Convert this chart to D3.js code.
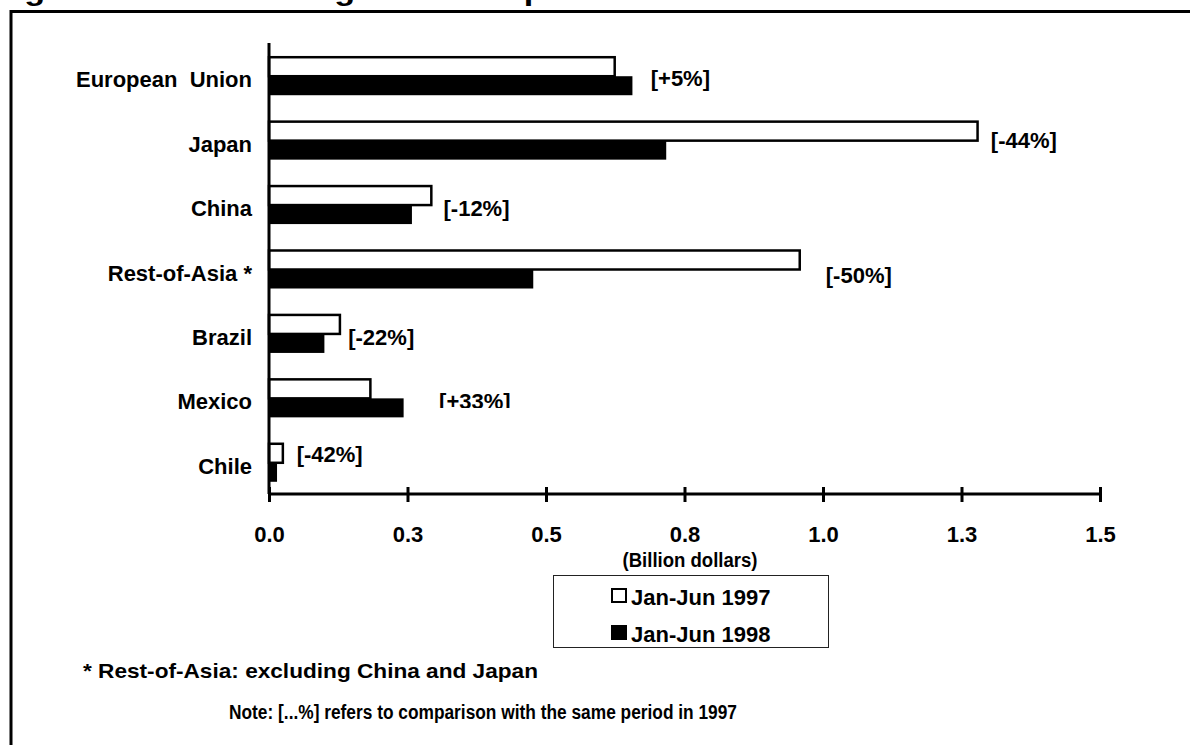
<!DOCTYPE html>
<html>
<head>
<meta charset="utf-8">
<script src="https://cdn.jsdelivr.net/npm/d3@7/dist/d3.min.js"></script>
<style>
  html, body { margin: 0; padding: 0; background: #fff; }
  svg { display: block; }
  text { font-family: "Liberation Sans", Arial, Helvetica, sans-serif; font-weight: bold; fill: #000; }
</style>
</head>
<body>
<div id="chart"></div>
<script>
// ---------------- DATA ----------------
const categories = ["European  Union", "Japan", "China", "Rest-of-Asia *", "Brazil", "Mexico", "Chile"];
const exports1997 = [0.624, 1.279, 0.293, 0.958, 0.128, 0.183, 0.025];
const exports1998 = [0.656, 0.717, 0.258, 0.477, 0.100, 0.243, 0.0145];
const changeLabels = ["[+5%]", "[-44%]", "[-12%]", "[-50%]", "[-22%]", "[+33%]", "[-42%]"];
const xTickValues = [0, 0.25, 0.5, 0.75, 1.0, 1.25, 1.5];
const xTickLabels = ["0.0", "0.3", "0.5", "0.8", "1.0", "1.3", "1.5"];
const seriesNames = ["Jan-Jun 1997", "Jan-Jun 1998"];
const titleText = "Figure 3: Canadian Agri-Food Exports to Destinations Other than the U.S.";
const axisTitle = "(Billion dollars)";
const footnote1 = "* Rest-of-Asia: excluding China and Japan";
const footnote2 = "Note: [...%] refers to comparison with the same period in 1997";

// ---------------- LAYOUT ----------------
const W = 1190, H = 745;
// annotation anchors for the change labels (x in axis units, y nudge in px)
const changeLabelAt = [0.689, 1.303, 0.315, 1.005, 0.143, 0.307, 0.05];
const changeLabelDy = [10, 7.5, 10.5, 13.5, 11.5, 10.5, -1];

const svg = d3.select("#chart").append("svg")
  .attr("width", W).attr("height", H);

const x = d3.scaleLinear().domain([0, 1.5]).range([269, 1100]);
const y = d3.scaleBand().domain(categories).range([44, 495])
  .paddingInner(0.41).paddingOuter(0.205);
const bh = y.bandwidth() / 2;

// title (cut off at top, as in the reference)
svg.append("text")
  .attr("x", -6).attr("y", 0)
  .attr("font-size", 27)
  .attr("textLength", 1190).attr("lengthAdjust", "spacingAndGlyphs")
  .text(titleText);

// frame
svg.append("path")
  .attr("d", "M11,760 V11.5 H1200")
  .attr("fill", "none").attr("stroke", "#000").attr("stroke-width", 3);

// bars 1997 (white, outlined)
svg.append("g").selectAll("rect")
  .data(categories)
  .join("rect")
  .attr("x", x(0))
  .attr("y", d => y(d))
  .attr("width", (d, i) => x(exports1997[i]) - x(0))
  .attr("height", bh)
  .attr("fill", "#fff")
  .attr("stroke", "#000")
  .attr("stroke-width", 2.5);

// bars 1998 (black)
svg.append("g").selectAll("rect")
  .data(categories)
  .join("rect")
  .attr("x", x(0))
  .attr("y", d => y(d) + bh)
  .attr("width", (d, i) => x(exports1998[i]) - x(0))
  .attr("height", bh)
  .attr("fill", "#000");

// y axis line + category labels
svg.append("line")
  .attr("x1", x(0)).attr("x2", x(0))
  .attr("y1", 43).attr("y2", 494)
  .attr("stroke", "#000").attr("stroke-width", 3);

svg.append("g").selectAll("text")
  .data(categories)
  .join("text")
  .attr("x", 252)
  .attr("y", d => y(d) + y.bandwidth() / 2 + 11)
  .attr("text-anchor", "end")
  .attr("font-size", 22)
  .style("white-space", "pre")
  .text(d => d);

// x axis
svg.append("line")
  .attr("x1", x(0)).attr("x2", x(1.5))
  .attr("y1", 494).attr("y2", 494)
  .attr("stroke", "#000").attr("stroke-width", 3);

const xAxis = d3.axisBottom(x)
  .tickValues(xTickValues)
  .tickFormat((d, i) => xTickLabels[i])
  .tickSize(15)
  .tickPadding(24);

const gx = svg.append("g")
  .attr("transform", "translate(0,487)")
  .call(xAxis);
gx.select(".domain").remove();
gx.selectAll(".tick line").attr("stroke", "#000").attr("stroke-width", 3);
gx.selectAll(".tick text")
  .attr("font-size", 22)
  .attr("font-family", "Liberation Sans, Arial, sans-serif")
  .attr("font-weight", "bold")
  .attr("fill", "#000");

// change labels
const defs = svg.append("defs");
defs.append("clipPath").attr("id", "clipMex")
  .append("rect").attr("x", 0).attr("y", 0).attr("width", W).attr("height", 408);

svg.append("g").selectAll("text")
  .data(categories)
  .join("text")
  .attr("x", (d, i) => x(changeLabelAt[i]))
  .attr("y", (d, i) => y(d) + y.bandwidth() / 2 + changeLabelDy[i])
  .attr("font-size", 22)
  .attr("clip-path", d => d === "Mexico" ? "url(#clipMex)" : null)
  .text((d, i) => changeLabels[i]);

// axis title
svg.append("text")
  .attr("x", 690).attr("y", 567)
  .attr("text-anchor", "middle")
  .attr("font-size", 20)
  .attr("textLength", 135).attr("lengthAdjust", "spacingAndGlyphs")
  .text(axisTitle);

// legend
const lg = svg.append("g");
lg.append("rect")
  .attr("x", 553.5).attr("y", 575.5)
  .attr("width", 275).attr("height", 72)
  .attr("fill", "#fff").attr("stroke", "#222").attr("stroke-width", 1);
const legendItems = lg.selectAll("g.item")
  .data(seriesNames)
  .join("g").attr("class", "item")
  .attr("transform", (d, i) => `translate(611,${588 + i * 37})`);
legendItems.append("rect")
  .attr("x", (d, i) => i === 0 ? 1 : 0)
  .attr("y", (d, i) => i === 0 ? 1 : 0)
  .attr("width", (d, i) => i === 0 ? 14 : 16)
  .attr("height", (d, i) => i === 0 ? 13 : 15)
  .attr("fill", (d, i) => i === 0 ? "#fff" : "#000")
  .attr("stroke", (d, i) => i === 0 ? "#000" : "none")
  .attr("stroke-width", 2);
legendItems.append("text")
  .attr("x", 20).attr("y", 17)
  .attr("font-size", 22)
  .text(d => d);

// footnotes
svg.append("text")
  .attr("x", 83).attr("y", 678)
  .attr("font-size", 21)
  .attr("textLength", 455).attr("lengthAdjust", "spacingAndGlyphs")
  .text(footnote1);
svg.append("text")
  .attr("x", 229).attr("y", 719)
  .attr("font-size", 20)
  .attr("textLength", 508).attr("lengthAdjust", "spacingAndGlyphs")
  .text(footnote2);
</script>
</body>
</html>
